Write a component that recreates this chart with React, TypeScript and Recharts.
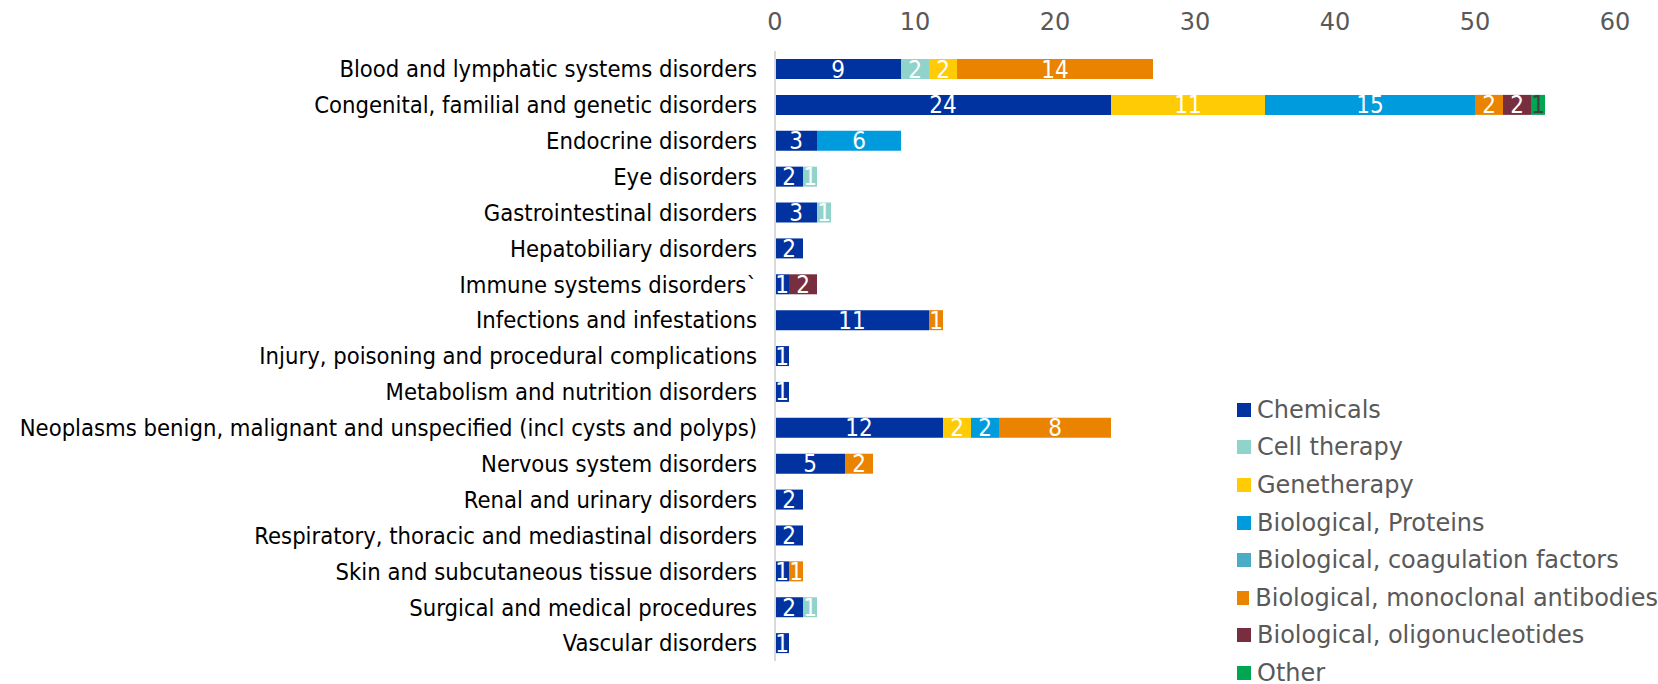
import React from 'react';
import { BarChart, Bar, XAxis, YAxis, LabelList } from 'recharts';

const categories = [
  'Blood and lymphatic systems disorders',
  'Congenital, familial and genetic disorders',
  'Endocrine disorders',
  'Eye disorders',
  'Gastrointestinal disorders',
  'Hepatobiliary disorders',
  'Immune systems disorders`',
  'Infections and infestations',
  'Injury, poisoning and procedural complications',
  'Metabolism and nutrition disorders',
  'Neoplasms benign, malignant and unspecified (incl cysts and polyps)',
  'Nervous system disorders',
  'Renal and urinary disorders',
  'Respiratory, thoracic and mediastinal disorders',
  'Skin and subcutaneous tissue disorders',
  'Surgical and medical procedures',
  'Vascular disorders',
];

const chemicals = [9, 24, 3, 2, 3, 2, 1, 11, 1, 1, 12, 5, 2, 2, 1, 2, 1];
const cellTherapy = [2, 0, 0, 1, 1, 0, 0, 0, 0, 0, 0, 0, 0, 0, 0, 1, 0];
const genetherapy = [2, 11, 0, 0, 0, 0, 0, 0, 0, 0, 2, 0, 0, 0, 0, 0, 0];
const proteins = [0, 15, 6, 0, 0, 0, 0, 0, 0, 0, 2, 0, 0, 0, 0, 0, 0];
const coagulation = [0, 0, 0, 0, 0, 0, 0, 0, 0, 0, 0, 0, 0, 0, 0, 0, 0];
const monoclonal = [14, 2, 0, 0, 0, 0, 0, 1, 0, 0, 8, 2, 0, 0, 1, 0, 0];
const oligonucleotides = [0, 2, 0, 0, 0, 0, 2, 0, 0, 0, 0, 0, 0, 0, 0, 0, 0];
const other = [0, 1, 0, 0, 0, 0, 0, 0, 0, 0, 0, 0, 0, 0, 0, 0, 0];

const xTicks = [0, 10, 20, 30, 40, 50, 60];

const series = [
  { key: 'chem', name: 'Chemicals', values: chemicals, color: '#0033a0', label: '#ffffff' },
  { key: 'cell', name: 'Cell therapy', values: cellTherapy, color: '#8fd3cb', label: '#ffffff' },
  { key: 'gene', name: 'Genetherapy', values: genetherapy, color: '#ffcb05', label: '#ffffff' },
  { key: 'prot', name: 'Biological, Proteins', values: proteins, color: '#009bdc', label: '#ffffff' },
  { key: 'coag', name: 'Biological, coagulation factors', values: coagulation, color: '#4bacc6', label: '#ffffff' },
  { key: 'mab', name: 'Biological, monoclonal antibodies', values: monoclonal, color: '#e98300', label: '#ffffff' },
  { key: 'oligo', name: 'Biological, oligonucleotides', values: oligonucleotides, color: '#772f3f', label: '#ffffff' },
  { key: 'other', name: 'Other', values: other, color: '#00a651', label: '#404040' },
];

const data = categories.map((name, i) => {
  const row: Record<string, string | number> = { name };
  series.forEach(s => { row[s.key] = s.values[i]; });
  return row;
});

// legend sits over the lower right of the plot, outside the chart's layout
const LegendList = () => (
  <div
    style={{
      position: 'absolute', left: 1237, top: 391, width: 421,
      fontFamily: 'DejaVu Sans', fontSize: 24, color: '#595959',
    }}
  >
    {series.map(s => (
      <div key={s.key} style={{ display: 'flex', alignItems: 'center', height: 37.6, whiteSpace: 'nowrap' }}>
        <span style={{ display: 'inline-block', width: 14, height: 14, background: s.color, marginRight: 6 }} />
        <span>{s.name}</span>
      </div>
    ))}
  </div>
);

export default function App() {
  return (
    <div style={{ position: 'absolute', left: 0, top: 0, width: 1658, height: 684, overflow: 'hidden', background: '#fff' }}>
      <BarChart
        width={1658}
        height={684}
        data={data}
        layout="vertical"
        barSize={20}
        margin={{ top: 0, right: 43, bottom: 23, left: 0 }}
      >
        <XAxis
          type="number"
          orientation="top"
          domain={[0, 60]}
          ticks={xTicks}
          height={51}
          axisLine={false}
          tickLine={false}
          tickSize={0}
          tickMargin={21}
          tick={{ fill: '#595959', fontSize: 24, fontFamily: 'DejaVu Sans' }}
        />
        <YAxis
          type="category"
          dataKey="name"
          width={775}
          interval={0}
          axisLine={{ stroke: '#d9d9d9', strokeWidth: 2 }}
          tickLine={false}
          tickSize={0}
          tickMargin={18}
          tick={{ fill: '#000000', fontSize: 23.6, fontFamily: 'DejaVu Sans Condensed' }}
        />
        {series.map(s => (
          <Bar key={s.key} dataKey={s.key} name={s.name} stackId="a" fill={s.color} isAnimationActive={false}>
            <LabelList
              dataKey={s.key}
              position="center"
              fill={s.label}
              fontSize={24}
              fontFamily="DejaVu Sans Condensed"
              formatter={(v: number) => (v ? v : '')}
            />
          </Bar>
        ))}
      </BarChart>
      <LegendList />
    </div>
  );
}
